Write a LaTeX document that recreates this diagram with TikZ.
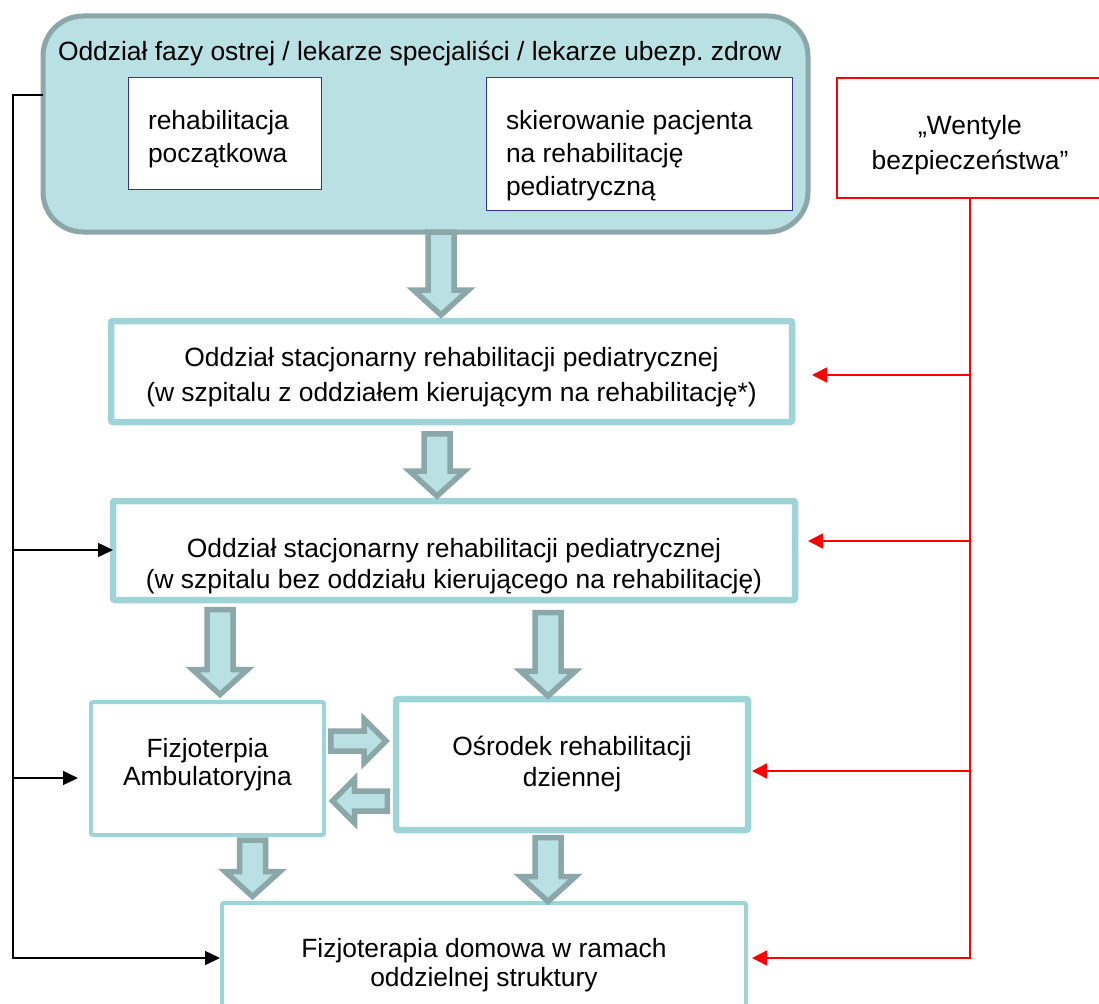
\documentclass[tikz,border=0pt]{standalone}
\usepackage{fontspec}
\setmainfont{Liberation Sans}
\usetikzlibrary{calc,arrows.meta}
\frenchspacing

\definecolor{acutefill}{RGB}{185,224,227}
\definecolor{acuteline}{RGB}{139,167,169}
\definecolor{wardline}{RGB}{158,212,216}
\definecolor{innerline}{RGB}{51,51,153}

\tikzset{
  acutebox/.style={draw=acuteline, fill=acutefill, line width=5pt, rounded corners=40pt},
  innerbox/.style={draw=innerline, fill=white, line width=1pt},
  ward/.style={draw=wardline, line width=6.5pt, rounded corners=2pt},
  thinward/.style={ward, line width=4pt},
  valvebox/.style={draw=red, line width=1.5pt},
  acutehead/.style={anchor=base west, inner sep=0pt, font=\fontsize{26.4}{32}\selectfont},
  innertxt/.style={anchor=west, align=left, inner sep=0pt, font=\fontsize{26.4}{33}\selectfont},
  boxtxt/.style={align=center, inner sep=0pt, font=\fontsize{26.4}{#1}\selectfont},
  boxtxt/.default=32,
  feed/.style={line width=1.5pt, -{Triangle[length=15pt,width=14pt]}},
  valve/.style={draw=red, line width=1.5pt, -{Triangle[length=15pt,width=15pt]}},
  % block arrow: shaft half width, head half width, head length
  fat/.style n args={3}{draw=acuteline, fill=acutefill, line width=5.5pt,
    to path={($(\tikztostart)!#1!90:(\tikztotarget)$)
      -- ($(\tikztotarget)!#3!(\tikztostart)!#1!90:(\tikztotarget)$)
      -- ($(\tikztotarget)!#3!(\tikztostart)!#2!90:(\tikztotarget)$)
      -- (\tikztotarget)
      -- ($(\tikztotarget)!#3!(\tikztostart)!#2!-90:(\tikztotarget)$)
      -- ($(\tikztotarget)!#3!(\tikztostart)!#1!-90:(\tikztotarget)$)
      -- ($(\tikztostart)!#1!-90:(\tikztotarget)$) -- cycle}},
  fatdown/.style={fat={13pt}{27.5pt}{25pt}},
  fatside/.style={fat={10pt}{22pt}{22pt}},
}

\begin{document}
\begin{tikzpicture}[x=1pt, y=-1pt, outer sep=0pt]
  \useasboundingbox (0,0) rectangle (1099,1003);

  % Acute ward with its two inner boxes
  \node[acutebox, minimum width=765pt, minimum height=216pt] (acute) at (425.5,124) {};
  \node[acutehead] (acutetitle) at (58,61) {Oddział fazy ostrej / lekarze specjaliści / lekarze ubezp. zdrow};
  \node[innerbox, minimum width=193pt, minimum height=111pt] (initial) at (224.5,133.5) {};
  \node[innertxt] (initialtxt) at (148,139) {rehabilitacja\\początkowa};
  \node[innerbox, minimum width=306pt, minimum height=132pt] (referral) at (639,144) {};
  \node[innertxt] (referraltxt) at (506,156) {skierowanie pacjenta\\na rehabilitację\\pediatryczną};

  % Safety valves
  \node[valvebox, minimum width=266pt, minimum height=120pt] (wentyle) at (970,138) {};
  \node[boxtxt=35] (wentyletxt) at (970,145) {„Wentyle\\bezpieczeństwa”};

  % Wards and outpatient care
  \node[ward, minimum width=681pt, minimum height=101pt] (b2) at (451.5,371.5) {};
  \node[boxtxt=35] (b2txt) at (451.5,377) {Oddział stacjonarny rehabilitacji pediatrycznej\\(w szpitalu z oddziałem kierującym na rehabilitację*)};
  \node[ward, minimum width=682pt, minimum height=99pt] (b3) at (454,550.5) {};
  \node[boxtxt=31] (b3txt) at (454,566) {Oddział stacjonarny rehabilitacji pediatrycznej\\(w szpitalu bez oddziału kierującego na rehabilitację)};
  \node[thinward, minimum width=233pt, minimum height=133pt] (fizjo) at (207.5,768.5) {};
  \node[boxtxt=28] (fizjotxt) at (207.5,765) {Fizjoterpia\\Ambulatoryjna};
  \node[ward, minimum width=352pt, minimum height=131pt] (osrodek) at (572,764.5) {};
  \node[boxtxt=31] (osrodektxt) at (572,764) {Ośrodek rehabilitacji\\dziennej};
  \node[thinward, minimum width=524pt, minimum height=120pt] (b7) at (484,963) {};
  \node[boxtxt=29] (b7txt) at (484,965) {Fizjoterapia domowa w ramach\\oddzielnej struktury};

  % Block arrows
  \draw[fatdown] ([xshift=15.5pt]acute.south) to ([xshift=-10.5pt,yshift=6pt]b2.north);
  \draw[fatdown] ([xshift=-14.5pt,yshift=-11.75pt]b2.south) to ([xshift=-17pt,yshift=5pt]b3.north);
  \draw[fatdown] ([xshift=-234pt,yshift=-9.5pt]b3.south) to ([xshift=12.5pt,yshift=7.5pt]fizjo.north);
  \draw[fatdown] ([xshift=94pt,yshift=-12.5pt]b3.south) to ([xshift=-24pt,yshift=3pt]osrodek.north);
  \draw[fatside] ([xshift=6.75pt,yshift=27.5pt]fizjo.east) to ([xshift=-10pt,yshift=23.5pt]osrodek.west);
  \draw[fatside] ([xshift=-8.75pt,yshift=-36.5pt]osrodek.west) to ([xshift=8.5pt,yshift=-32.5pt]fizjo.east);
  \draw[fatdown] ([xshift=45pt,yshift=-5pt]fizjo.south) to ([xshift=-231.5pt,yshift=6.5pt]b7.north);
  \draw[fatdown] ([xshift=-24pt,yshift=-7.5pt]osrodek.south) to ([xshift=64pt,yshift=1.5pt]b7.north);

  % Referral bus on the left
  \coordinate (feedbus) at (13,958);
  \draw[feed, shorten >=2pt] (acute.west |- 0,95) -| (feedbus) -- (b7.west |- feedbus);
  \draw[feed] (feedbus |- 0,550) -- (b3.west |- 0,550);
  \draw[feed, shorten >=13pt] (feedbus |- 0,778) -- (fizjo.west |- 0,778);

  % Safety valve bus on the right
  \draw[valve, shorten >=6pt] (wentyle.south) |- (b7.east |- 0,958);
  \draw[valve, shorten >=20pt] (wentyle.south |- 0,375) -- (b2.east |- 0,375);
  \draw[valve, shorten >=13pt] (wentyle.south |- 0,541) -- (b3.east |- 0,541);
  \draw[valve, shorten >=4pt] (wentyle.south |- 0,771) -- (osrodek.east |- 0,771);
\end{tikzpicture}
\end{document}
